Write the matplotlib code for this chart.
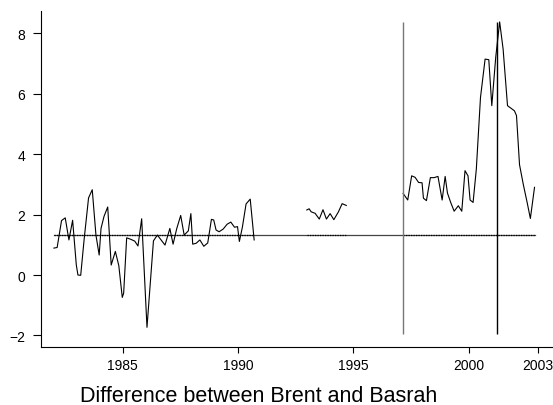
import numpy as np
import matplotlib
matplotlib.use('Agg')
import matplotlib.pyplot as plt

plt.rcParams['font.family'] = ['Liberation Sans', 'DejaVu Sans']

# difference Brent - Basrah, three stretches of data with gaps between them
years_a = [1982.03, 1982.17, 1982.36, 1982.52, 1982.68, 1982.84, 1983.00, 1983.07,
           1983.19, 1983.34, 1983.53, 1983.69, 1983.85, 1983.99, 1984.07, 1984.20,
           1984.36, 1984.51, 1984.69, 1984.84, 1984.99, 1985.05, 1985.18, 1985.36,
           1985.53, 1985.67, 1985.83, 1986.06, 1986.34, 1986.51, 1986.67, 1986.84,
           1987.05, 1987.19, 1987.35, 1987.52, 1987.67, 1987.85, 1987.96, 1988.04,
           1988.19, 1988.35, 1988.52, 1988.69, 1988.85, 1988.95, 1989.05, 1989.18,
           1989.36, 1989.53, 1989.69, 1989.85, 1989.98, 1990.06, 1990.19, 1990.35,
           1990.53, 1990.70]
diff_a = [0.89, 0.91, 1.80, 1.89, 1.16, 1.81, 0.33, 0.00,
          -0.01, 1.19, 2.55, 2.82, 1.32, 0.66, 1.54, 1.94,
          2.25, 0.33, 0.78, 0.31, -0.74, -0.60, 1.23, 1.18,
          1.12, 0.96, 1.86, -1.73, 1.13, 1.32, 1.16, 0.99,
          1.54, 1.02, 1.54, 1.97, 1.32, 1.46, 2.03, 1.02,
          1.05, 1.16, 0.95, 1.06, 1.84, 1.82, 1.49, 1.43,
          1.52, 1.68, 1.75, 1.58, 1.60, 1.11, 1.58, 2.35,
          2.51, 1.16]

years_b = [1992.98, 1993.08, 1993.17, 1993.34, 1993.52, 1993.68, 1993.83, 1993.99,
           1994.15, 1994.35, 1994.51, 1994.69]
diff_b = [2.15, 2.19, 2.09, 2.04, 1.85, 2.16, 1.85, 2.03,
          1.83, 2.09, 2.36, 2.30]

years_c = [1997.15, 1997.35, 1997.52, 1997.67, 1997.82, 1997.97, 1998.03, 1998.16,
           1998.33, 1998.49, 1998.66, 1998.84, 1998.97, 1999.07, 1999.21, 1999.36,
           1999.54, 1999.69, 1999.83, 1999.96, 2000.05, 2000.18, 2000.32, 2000.50,
           2000.70, 2000.86, 2000.99, 2001.16, 2001.33, 2001.48, 2001.67, 2001.83,
           2001.97, 2002.06, 2002.19, 2002.35, 2002.52, 2002.66, 2002.84]
diff_c = [2.70, 2.48, 3.28, 3.23, 3.06, 3.05, 2.54, 2.46,
          3.22, 3.22, 3.26, 2.48, 3.26, 2.71, 2.40, 2.11,
          2.29, 2.11, 3.45, 3.28, 2.48, 2.40, 3.50, 5.87,
          7.14, 7.12, 5.60, 7.20, 8.37, 7.47, 5.60, 5.51,
          5.43, 5.27, 3.65, 3.01, 2.40, 1.87, 2.90]

mean_diff = 1.33
breaks = [1997.13, 2001.23]
break_lo, break_hi = -1.95, 8.37
xticks = [1985, 1990, 1995, 2000, 2003]
yticks = [-2, 0, 2, 4, 6, 8]

# join segments with NaN gaps
years = np.array(years_a + [np.nan] + years_b + [np.nan] + years_c)
diff = np.array(diff_a + [np.nan] + diff_b + [np.nan] + diff_c)
mean_line = np.where(np.isnan(diff), np.nan, mean_diff)

fig = plt.figure(figsize=(5.53, 4.06), dpi=100)
ax = fig.add_axes([0.0741, 0.1429, 0.9259, 0.8275])

ax.plot([years_a[0], years_c[-1]], [mean_diff, mean_diff], color='#444444', lw=0.9)
ax.plot(years, mean_line, color='black', lw=0.9, ls=(0, (1, 1)))
ax.plot(years, diff, color='black', lw=0.8)
ax.vlines(breaks[0], break_lo, break_hi, color='#777777', lw=1.0)
ax.vlines(breaks[1], break_lo, break_hi, color='black', lw=1.0)

ax.set_xlim(1981.47, 2003.64)
ax.set_ylim(-2.38, 8.73)
ax.set_xticks(xticks)
ax.set_yticks(yticks)
ax.set_yticklabels(['\u22122', '0', '2', '4', '6', '8'])
ax.tick_params(axis='both', labelsize=10, width=0.8, direction='out')
ax.tick_params(axis='x', length=4, pad=4)
ax.tick_params(axis='y', length=5.5, pad=6)
for side in ['top', 'right']:
    ax.spines[side].set_visible(False)
for side in ['left', 'bottom']:
    ax.spines[side].set_linewidth(0.8)

fig.text(0.468, 0.01, 'Difference between Brent and Basrah', fontsize=15.5,
         ha='center', va='baseline')

fig.savefig('out.png', dpi=100)
